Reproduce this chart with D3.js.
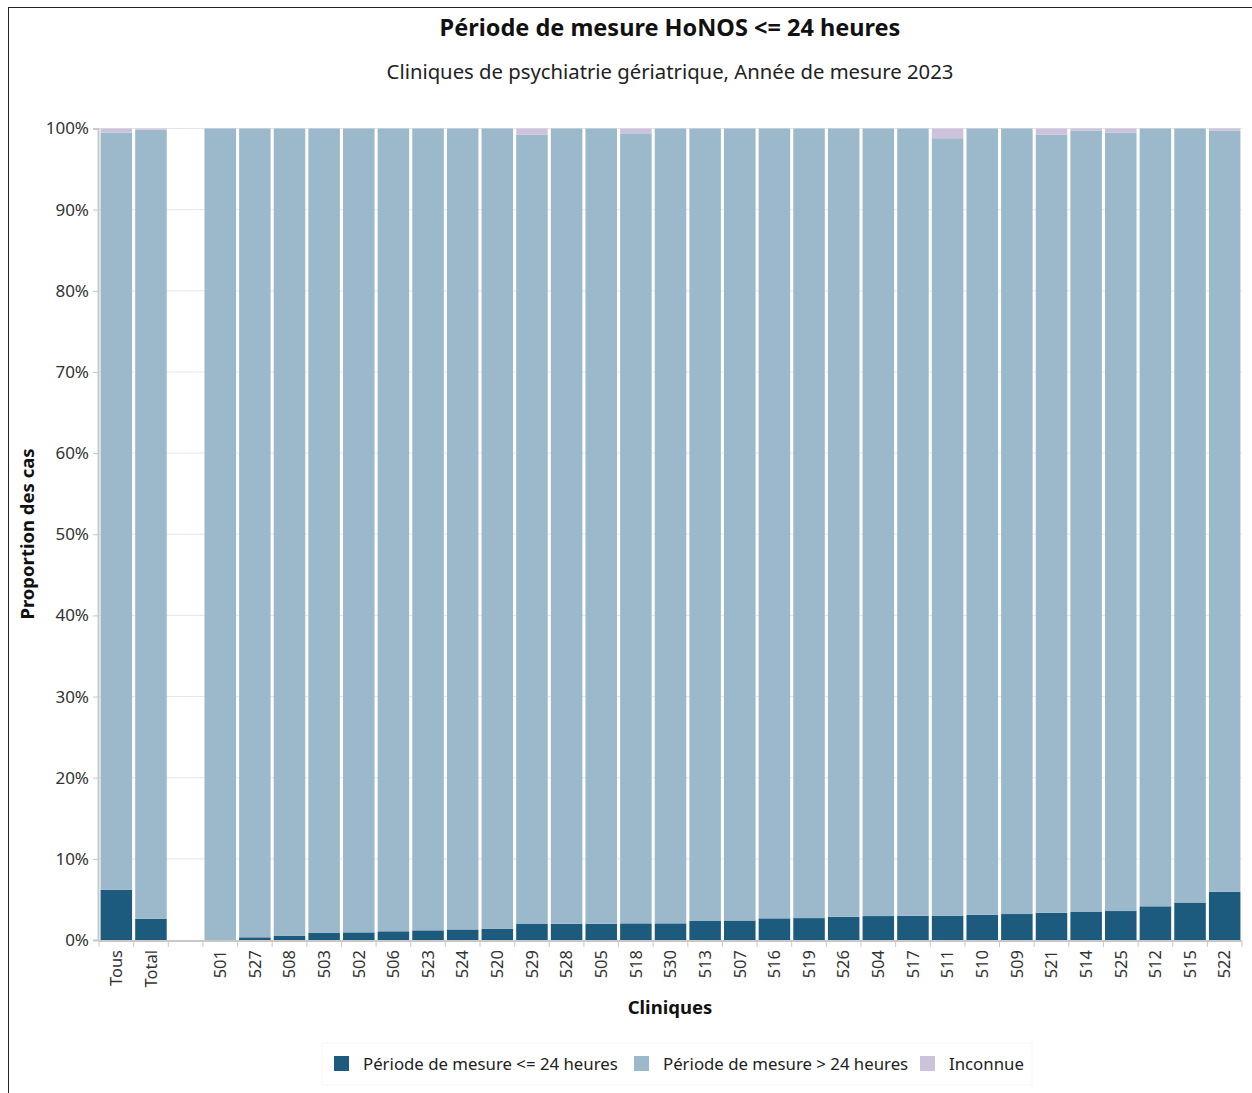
<!DOCTYPE html>
<html><head><meta charset="utf-8">
<script src="https://cdn.jsdelivr.net/npm/d3@7"></script>
<style>
body{margin:0;background:#fff;}
svg{display:block;font-family:"Noto Sans","Open Sans",sans-serif;}
</style></head>
<body>
<svg id="chart" width="1252" height="1093"></svg>
<script>
const categories = ["Tous","Total"," ","501","527","508","503","502","506","523","524","520","529","528","505","518","530","513","507","516","519","526","504","517","511","510","509","521","514","525","512","515","522"];
const le24 = [6.2,2.6,0,0,0.33,0.5,0.86,0.94,1.07,1.19,1.3,1.4,1.97,2.0,2.0,2.05,2.05,2.34,2.4,2.67,2.7,2.87,2.95,2.99,3.0,3.1,3.2,3.36,3.45,3.57,4.15,4.62,5.93];
const gt24 = [93.3,97.25,0,100,99.67,99.5,99.14,99.06,98.93,98.81,98.7,98.6,97.29,98.0,98.0,97.35,97.95,97.66,97.6,97.33,97.3,97.13,97.05,97.01,95.8,96.9,96.8,95.9,96.3,95.93,95.85,95.38,93.82];
const unknown = [0.5,0.15,0,0,0,0,0,0,0,0,0,0,0.74,0,0,0.6,0,0,0,0,0,0,0,0,1.2,0,0,0.74,0.25,0.5,0,0,0.25];
const seriesNames = ["Période de mesure <= 24 heures","Période de mesure > 24 heures","Inconnue"];
const yTicks = [0,10,20,30,40,50,60,70,80,90,100];

const colors = ["#1c5b7e","#9bb9ca","#cdc2dc"];
const svg = d3.select("#chart");

// frame
svg.append("rect").attr("x",8.5).attr("y",7.5).attr("width",1250).attr("height",1090)
  .attr("fill","none").attr("stroke","#222").attr("stroke-width",1);

const m = {left:99, right:1242, top:128.5, bottom:940};
const x = d3.scaleBand().domain(categories).range([m.left,m.right]).paddingInner(0.09).paddingOuter(0.045);
const y = d3.scaleLinear().domain([0,100]).range([m.bottom,m.top]);

// gridlines
svg.append("g").selectAll("line").data(yTicks.filter(t=>t>0)).join("line")
  .attr("x1",m.left).attr("x2",m.right).attr("y1",d=>y(d)).attr("y2",d=>y(d))
  .attr("stroke","#e6e6e6").attr("stroke-width",1);

const data = categories.map((c,i)=>({cat:c, a:le24[i], b:gt24[i], c:unknown[i]}));
const stack = d3.stack().keys(["a","b","c"])(data);

svg.append("g").selectAll("g").data(stack).join("g")
  .attr("fill",(d,i)=>colors[i])
  .selectAll("rect").data(d=>d).join("rect")
  .attr("x",d=>x(d.data.cat)).attr("width",x.bandwidth())
  .attr("y",d=>y(d[1])).attr("height",d=>Math.max(0,y(d[0])-y(d[1])));

// y axis
const yAxis = d3.axisLeft(y).tickValues(yTicks).tickFormat(d=>d+"%").tickSize(5).tickPadding(4);
const gy = svg.append("g").attr("transform",`translate(${m.left-1},0)`).call(yAxis);
gy.select(".domain").attr("stroke","#c8c8c8").attr("stroke-width",2);
gy.selectAll(".tick line").attr("stroke","#c8c8c8");
gy.selectAll("text").attr("font-size",17).attr("fill","#333").attr("font-family","Noto Sans, Open Sans, sans-serif");

// x axis
const xAxis = d3.axisBottom(x).tickSize(0).tickPadding(0);
const gx = svg.append("g").attr("transform",`translate(0,${m.bottom+1})`).call(xAxis);
gx.select(".domain").attr("stroke","#c8c8c8").attr("stroke-width",2).attr("d",`M${m.left},0H${m.right}`);
gx.selectAll(".tick text").attr("font-size",16.5).attr("fill","#333").attr("font-family","Noto Sans, Open Sans, sans-serif")
  .attr("transform","rotate(-90)").attr("text-anchor","end").attr("dy","0.35em").attr("x",-9).attr("y",0);
// boundary ticks
const step = x.step();
const bounds = d3.range(categories.length+1).map(i=>m.left+ (x(categories[0]) - m.left - x.paddingInner()*step/2) + i*step);
svg.append("g").selectAll("line").data(bounds).join("line")
  .attr("x1",d=>d).attr("x2",d=>d).attr("y1",m.bottom+1).attr("y2",m.bottom+7)
  .attr("stroke","#c8c8c8").attr("stroke-width",1);

// titles
svg.append("text").attr("x",670).attr("y",36).attr("text-anchor","middle")
  .attr("font-size",23.5).attr("font-weight","bold").attr("fill","#111").text("Période de mesure HoNOS <= 24 heures");
svg.append("text").attr("x",670).attr("y",79).attr("text-anchor","middle")
  .attr("font-size",20.3).attr("fill","#222").text("Cliniques de psychiatrie gériatrique, Année de mesure 2023");
svg.append("text").attr("x",670).attr("y",1014).attr("text-anchor","middle")
  .attr("font-size",18.5).attr("font-weight","bold").attr("fill","#111").text("Cliniques");
svg.append("text").attr("transform","translate(34,534) rotate(-90)").attr("text-anchor","middle")
  .attr("font-size",18.5).attr("font-weight","bold").attr("fill","#111").text("Proportion des cas");

// legend
const lg = svg.append("g");
lg.append("rect").attr("x",322).attr("y",1043).attr("width",710).attr("height",42)
  .attr("fill","none").attr("stroke","#f7f7f7");
const lx = [334,634,920];
seriesNames.forEach((n,i)=>{
  lg.append("rect").attr("x",lx[i]).attr("y",1056).attr("width",15).attr("height",15).attr("fill",colors[i]);
  lg.append("text").attr("x",lx[i]+29).attr("y",1070).attr("font-size",16.8).attr("fill","#222").text(n);
});
</script>
</body></html>
